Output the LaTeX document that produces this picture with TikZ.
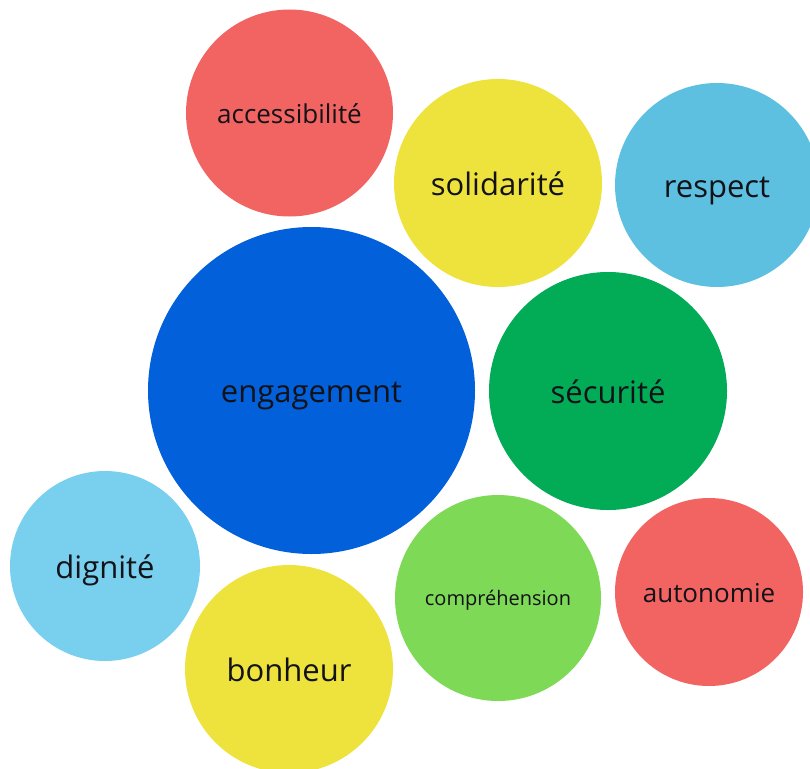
\documentclass[tikz,border=0pt]{standalone}
\usepackage{fontspec}
\setmainfont{Open Sans}
\usepackage{tikz}

\definecolor{bubred}{HTML}{F26462}
\definecolor{bubyellow}{HTML}{EEE23C}
\definecolor{bubsky}{HTML}{5EC0E0}
\definecolor{bubpale}{HTML}{78CFEE}
\definecolor{bubblue}{HTML}{0260DA}
\definecolor{bubgreen}{HTML}{02AB55}
\definecolor{bublime}{HTML}{7ED957}
\definecolor{bubtext}{HTML}{121218}

\tikzset{
	bubble/.style={circle, inner sep=0pt, text=bubtext, minimum size=#1, text depth=0pt},
	big/.style={font=\fontsize{31}{36}\selectfont, text height=24pt},
	mid/.style={font=\fontsize{26}{31}\selectfont, text height=20pt},
	small/.style={font=\fontsize{20}{24}\selectfont, text height=15.6pt}
}

\begin{document}
\begin{tikzpicture}[x=1pt, y=-1pt]
		\useasboundingbox (0,0) rectangle (810,768);
		\clip (0,0) rectangle (810,768);
		\node (acces) [bubble=207pt, fill=bubred, mid] at (289.5,113) {accessibilité};
		\node (solid) [bubble=208pt, fill=bubyellow, big] at (498,183) {solidarité};
		\node (resp) [bubble=204pt, fill=bubsky, big] at (717,185) {respect};
		\node (engag) [bubble=327pt, fill=bubblue, big] at (311.5,390.5) {engagement};
		\node (secur) [bubble=238pt, fill=bubgreen, big] at (608,391) {sécurité};
		\node (dign) [bubble=190pt, fill=bubpale, big] at (105,566) {dignité};
		\node (bonh) [bubble=208pt, fill=bubyellow, big] at (289,669) {bonheur};
		\node (compr) [bubble=206pt, fill=bublime, small] at (498,598) {compréhension};
		\node (auton) [bubble=188pt, fill=bubred, mid] at (709,592) {autonomie};
\end{tikzpicture}
\end{document}
